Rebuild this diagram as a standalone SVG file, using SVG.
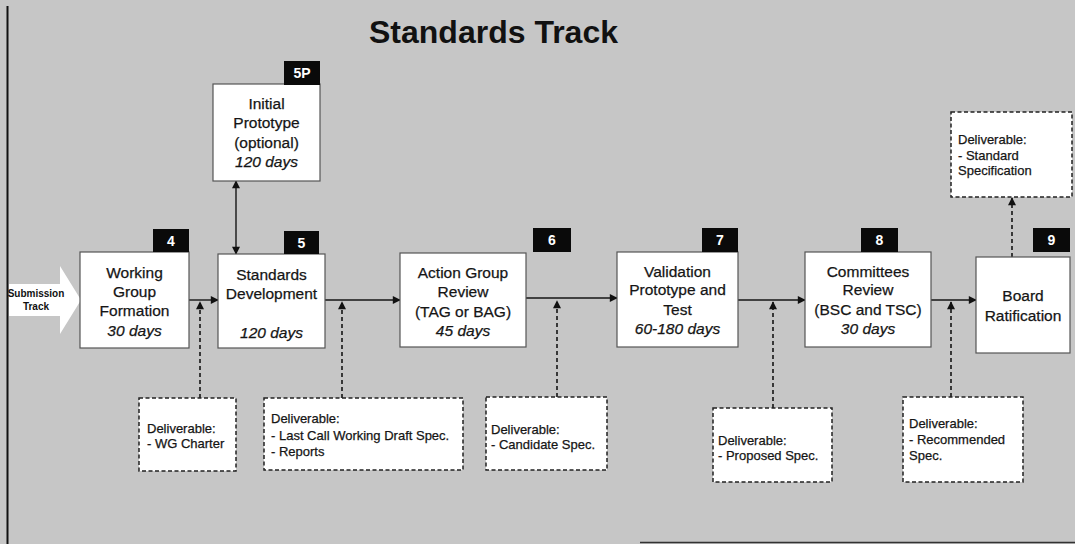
<svg xmlns="http://www.w3.org/2000/svg" width="1075" height="544" viewBox="0 0 1075 544">
  <defs>
    <marker id="ah" viewBox="0 0 10 10" refX="9" refY="5" markerWidth="10" markerHeight="8" markerUnits="userSpaceOnUse" orient="auto-start-reverse">
      <path d="M0,0 L10,5 L0,10 z" fill="#111"/>
    </marker>
    <style>
      .bg { fill: #c6c6c6; }
      .box { fill: #ffffff; stroke: #555; stroke-width: 1.2; }
      .deliv { fill: #ffffff; stroke: #222; stroke-width: 1.5; stroke-dasharray: 4 2.5; }
      .tag { fill: #0a0a0a; }
      .tagtxt { font-family: "Liberation Sans", Arial, sans-serif; font-size: 14px; font-weight: bold; fill: #ffffff; text-anchor: middle; }
      .txt { font-family: "Liberation Sans", Arial, sans-serif; font-size: 15.5px; fill: #151515; text-anchor: middle; stroke: #151515; stroke-width: 0.25; }
      .it { font-style: italic; }
      .dtxt { font-family: "Liberation Sans", Arial, sans-serif; font-size: 13px; fill: #151515; stroke: #151515; stroke-width: 0.25; }
      .flow { stroke: #151515; stroke-width: 1.4; fill: none; marker-end: url(#ah); }
      .dash { stroke: #151515; stroke-width: 1.6; stroke-dasharray: 4 3; fill: none; marker-end: url(#ah); }
    </style>
  </defs>

  <!-- page background and frame edges -->
  <rect class="bg" x="0" y="0" width="1075" height="544"/>
  <line x1="7.5" y1="6" x2="7.5" y2="544" stroke="#111" stroke-width="2"/>
  <line x1="640" y1="542.5" x2="1075" y2="542.5" stroke="#333" stroke-width="1.5"/>

  <!-- title -->
  <text x="369" y="43" font-family="'Liberation Sans', Arial, sans-serif" font-size="32" font-weight="bold" fill="#111">Standards Track</text>

  <!-- entry arrow -->
  <g id="submission-track">
    <polygon points="9,284 60,284 60,266 81,300 60,334 60,316 9,316" fill="#ffffff"/>
    <text x="36" y="297" font-family="'Liberation Sans', Arial, sans-serif" font-size="10" font-weight="bold" fill="#111" text-anchor="middle">Submission</text>
    <text x="36" y="310" font-family="'Liberation Sans', Arial, sans-serif" font-size="10" font-weight="bold" fill="#111" text-anchor="middle">Track</text>
  </g>

  <!-- connectors -->
  <g id="connectors">
    <line class="flow" x1="189" y1="300" x2="218" y2="300"/>
    <line class="flow" x1="325" y1="300" x2="400" y2="300"/>
    <line class="flow" x1="526" y1="298" x2="617" y2="298"/>
    <line class="flow" x1="738" y1="300" x2="805" y2="300"/>
    <line class="flow" x1="931" y1="300" x2="976" y2="300"/>
    <line x1="236" y1="181" x2="236" y2="254" stroke="#151515" stroke-width="1.4" marker-start="url(#ah)" marker-end="url(#ah)"/>
    <line class="dash" x1="200" y1="398" x2="200" y2="302"/>
    <line class="dash" x1="342" y1="398" x2="342" y2="302"/>
    <line class="dash" x1="557" y1="397" x2="557" y2="301"/>
    <line class="dash" x1="773" y1="408" x2="773" y2="302"/>
    <line class="dash" x1="951" y1="397" x2="951" y2="302"/>
    <line class="dash" x1="1012" y1="257" x2="1012" y2="198"/>
  </g>

  <g id="step-5p">
    <rect class="box" x="213" y="84" width="107" height="97"/>
    <rect class="tag" x="284" y="61" width="36" height="24"/>
    <text class="tagtxt" x="302" y="78">5P</text>
    <text class="txt" x="266.5" y="109">Initial</text>
    <text class="txt" x="266.5" y="128">Prototype</text>
    <text class="txt" x="266.5" y="148">(optional)</text>
    <text class="txt it" x="266.5" y="167">120 days</text>
  </g>

  <g id="step-4">
    <rect class="box" x="80" y="252" width="109" height="96"/>
    <rect class="tag" x="153" y="229" width="36" height="23"/>
    <text class="tagtxt" x="171" y="246">4</text>
    <text class="txt" x="134.5" y="278">Working</text>
    <text class="txt" x="134.5" y="297">Group</text>
    <text class="txt" x="134.5" y="316">Formation</text>
    <text class="txt it" x="134.5" y="336">30 days</text>
  </g>

  <g id="step-5">
    <rect class="box" x="218" y="254" width="107" height="94"/>
    <rect class="tag" x="284" y="231" width="35" height="23"/>
    <text class="tagtxt" x="301.5" y="248">5</text>
    <text class="txt" x="271.5" y="280">Standards</text>
    <text class="txt" x="271.5" y="299">Development</text>
    <text class="txt it" x="271.5" y="338">120 days</text>
  </g>

  <g id="step-6">
    <rect class="box" x="400" y="253" width="126" height="94"/>
    <rect class="tag" x="533" y="228" width="38" height="24"/>
    <text class="tagtxt" x="552" y="245">6</text>
    <text class="txt" x="463" y="278">Action Group</text>
    <text class="txt" x="463" y="297">Review</text>
    <text class="txt" x="463" y="317">(TAG or BAG)</text>
    <text class="txt it" x="463" y="336">45 days</text>
  </g>

  <g id="step-7">
    <rect class="box" x="617" y="252" width="121" height="95"/>
    <rect class="tag" x="702" y="228" width="36" height="24"/>
    <text class="tagtxt" x="720" y="245">7</text>
    <text class="txt" x="677.5" y="277">Validation</text>
    <text class="txt" x="677.5" y="295">Prototype and</text>
    <text class="txt" x="677.5" y="315">Test</text>
    <text class="txt it" x="677.5" y="334">60-180 days</text>
  </g>

  <g id="step-8">
    <rect class="box" x="805" y="252" width="126" height="95"/>
    <rect class="tag" x="861" y="228" width="37" height="24"/>
    <text class="tagtxt" x="879.5" y="245">8</text>
    <text class="txt" x="868" y="277">Committees</text>
    <text class="txt" x="868" y="295">Review</text>
    <text class="txt" x="868" y="315">(BSC and TSC)</text>
    <text class="txt it" x="868" y="334">30 days</text>
  </g>

  <g id="step-9">
    <rect class="box" x="976" y="257" width="94" height="96"/>
    <rect class="tag" x="1033" y="228" width="37" height="24"/>
    <text class="tagtxt" x="1051.5" y="245">9</text>
    <text class="txt" x="1023" y="301">Board</text>
    <text class="txt" x="1023" y="321">Ratification</text>
  </g>

  <g id="deliverable-charter">
    <rect class="deliv" x="139" y="398" width="97" height="73"/>
    <text class="dtxt" x="147" y="433">Deliverable:</text>
    <text class="dtxt" x="147" y="448">- WG Charter</text>
  </g>

  <g id="deliverable-draft">
    <rect class="deliv" x="264" y="398" width="199" height="72"/>
    <text class="dtxt" x="271" y="423">Deliverable:</text>
    <text class="dtxt" x="271" y="440">- Last Call Working Draft Spec.</text>
    <text class="dtxt" x="271" y="456">- Reports</text>
  </g>

  <g id="deliverable-candidate">
    <rect class="deliv" x="486" y="397" width="121" height="73"/>
    <text class="dtxt" x="491" y="434">Deliverable:</text>
    <text class="dtxt" x="491" y="449">- Candidate Spec.</text>
  </g>

  <g id="deliverable-proposed">
    <rect class="deliv" x="713" y="408" width="119" height="74"/>
    <text class="dtxt" x="718" y="445">Deliverable:</text>
    <text class="dtxt" x="718" y="460">- Proposed Spec.</text>
  </g>

  <g id="deliverable-recommended">
    <rect class="deliv" x="903" y="397" width="120" height="85"/>
    <text class="dtxt" x="909" y="428">Deliverable:</text>
    <text class="dtxt" x="909" y="444">- Recommended</text>
    <text class="dtxt" x="909" y="460">Spec.</text>
  </g>

  <g id="deliverable-standard">
    <rect class="deliv" x="951" y="112" width="121" height="85"/>
    <text class="dtxt" x="958" y="144">Deliverable:</text>
    <text class="dtxt" x="958" y="160">- Standard</text>
    <text class="dtxt" x="958" y="175">Specification</text>
  </g>
</svg>
